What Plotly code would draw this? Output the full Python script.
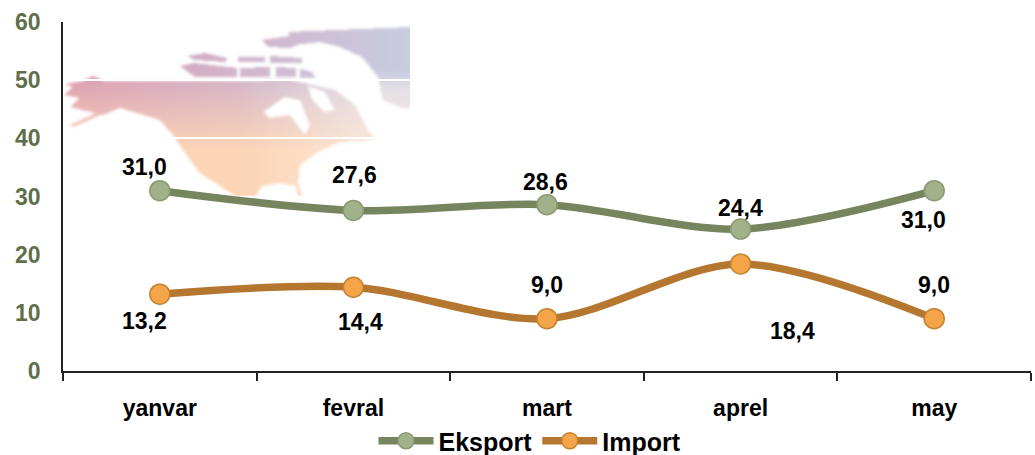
import base64
import struct
import zlib

import numpy as np
import plotly.graph_objects as go

months = ["yanvar", "fevral", "mart", "aprel", "may"]
eksport = [31.0, 27.6, 28.6, 24.4, 31.0]
import_ = [13.2, 14.4, 9.0, 18.4, 9.0]
eksport_labels = ["31,0", "27,6", "28,6", "24,4", "31,0"]
import_labels = ["13,2", "14,4", "9,0", "18,4", "9,0"]
y_ticks = [0, 10, 20, 30, 40, 50, 60]

# label offsets from the point, px (x right, y up)
eksport_shift = [(-15, 24), (1, 35), (-2, 23), (0, 21), (-11, -29)]
import_shift = [(-15, -27), (7, -35), (0, 34), (52, -67), (0, 34)]

GREEN = "#77855F"
ORANGE = "#B5762F"

# background map, rough outlines in page pixels of the original picture
map_shapes = [
    [(65, 84), (83, 81), (93, 76), (105, 81), (240, 81), (290, 80), (335, 90), (355, 105), (368, 130),
     (375, 140), (340, 142), (318, 152), (300, 165), (298, 182), (302, 197), (237, 197), (200, 173), (183, 150),
     (173, 135), (160, 120), (120, 108), (103, 115), (70, 107), (80, 98), (65, 95), (73, 87)],
    [(70, 125), (110, 107), (112, 110), (73, 127)],
    [(180, 66), (195, 63), (237, 68), (237, 77), (195, 77)],
    [(187, 56), (205, 53), (227, 58), (226, 62), (195, 60)],
    [(240, 68), (270, 67), (270, 77), (240, 77)],
    [(276, 67), (296, 68), (296, 77), (276, 77)],
    [(300, 69), (312, 72), (316, 78), (300, 78)],
    [(238, 57), (265, 57), (265, 62), (238, 62)],
    [(270, 56), (302, 58), (302, 63), (270, 63)],
    [(262, 40), (290, 36), (310, 40), (290, 48), (268, 47)],
    [(288, 32), (410, 27), (410, 108), (402, 108), (383, 100), (378, 77), (362, 57), (340, 47), (320, 42), (295, 45)],
]
map_holes = [
    [(263, 112), (285, 97), (300, 100), (310, 125), (305, 135), (290, 115), (270, 118)],
    [(255, 197), (262, 186), (280, 183), (296, 186), (298, 197)],
    [(308, 86), (325, 92), (335, 110), (325, 112), (312, 100)],
]


def fill_poly(poly, xx, yy):
    pts = np.array(poly, float)
    inside = np.zeros(xx.shape, bool)
    for i in range(len(pts)):
        a, b = pts[i], pts[i - 1]
        with np.errstate(divide="ignore", invalid="ignore"):
            inside ^= ((a[1] > yy) != (b[1] > yy)) & (xx < (b[0] - a[0]) * (yy - a[1]) / (b[1] - a[1]) + a[0])
    return inside


def make_map():
    x0, y0, w, h = 64, 25, 346, 175
    xx, yy = np.meshgrid(np.arange(w) + x0 + 0.5, np.arange(h) + y0 + 0.5)
    mask = np.zeros((h, w))
    for poly in map_shapes:
        mask[fill_poly(poly, xx, yy)] = 1
    for poly in map_holes:
        mask[fill_poly(poly, xx, yy)] = 0
    # soften the edges
    for _ in range(5):
        p = np.pad(mask, 1, mode="edge")
        mask = (p[1:-1, 1:-1] + p[:-2, 1:-1] + p[2:, 1:-1] + p[1:-1, :-2] + p[1:-1, 2:]) / 5
    # the map washes out towards the east
    mask *= 1 - 0.4 * np.clip((xx - 240) / 120, 0, 1) * np.clip((yy - 70) / 20, 0, 1)
    u = (xx - x0) / w
    v = np.clip((yy - 75) / 75, 0, 1)
    pink = np.array([220, 155, 178])
    blue = np.array([200, 205, 226])
    peach = np.array([252, 212, 182])
    rgb = np.zeros((h, w, 3))
    for c in range(3):
        top = pink[c] * (1 - u) + blue[c] * u
        rgb[:, :, c] = top * (1 - v) + peach[c] * v
    rgb = rgb * mask[:, :, None] + 255 * (1 - mask[:, :, None])
    raw = b"".join(b"\x00" + row.tobytes() for row in rgb.astype(np.uint8))

    def chunk(tag, data):
        return struct.pack(">I", len(data)) + tag + data + struct.pack(">I", zlib.crc32(tag + data))

    png = b"\x89PNG\r\n\x1a\n" + chunk(b"IHDR", struct.pack(">IIBBBBB", w, h, 8, 2, 0, 0, 0))
    png += chunk(b"IDAT", zlib.compress(raw)) + chunk(b"IEND", b"")
    return "data:image/png;base64," + base64.b64encode(png).decode(), x0, y0, w, h


W, H = 1035, 455
L, R, T, B = 63, 4, 22, 84
FONT = "Liberation Sans"

fig = go.Figure()
for name, vals, col, fill, edge in [
    ("Eksport", eksport, GREEN, "#A3B18A", "#8C9A72"),
    ("Import", import_, ORANGE, "#F4A54A", "#C4822F"),
]:
    fig.add_trace(go.Scatter(
        x=months, y=vals, name=name, mode="lines+markers",
        line=dict(color=col, width=7.5, shape="spline", smoothing=0.9),
        marker=dict(size=20, color=fill, line=dict(color=edge, width=1.5)),
    ))

for vals, labels, shifts in [(eksport, eksport_labels, eksport_shift), (import_, import_labels, import_shift)]:
    for m, v, t, s in zip(months, vals, labels, shifts):
        fig.add_annotation(x=m, y=v, text=t, showarrow=False, xshift=s[0], yshift=s[1],
                           font=dict(family=FONT, size=23, color="black", weight="bold"))

src, mx, my, mw, mh = make_map()
fig.add_layout_image(dict(source=src, xref="paper", yref="paper", layer="below", sizing="stretch",
                          x=(mx - L) / (W - L - R), y=1 - (my - T) / (H - T - B),
                          sizex=mw / (W - L - R), sizey=mh / (H - T - B), xanchor="left", yanchor="top"))

fig.update_layout(
    width=W, height=H, margin=dict(l=L, r=R, t=T, b=B, autoexpand=False),
    paper_bgcolor="white", plot_bgcolor="rgba(0,0,0,0)",
    font=dict(family=FONT),
    showlegend=True,
    legend=dict(orientation="h", xref="container", yref="container", x=530 / W, xanchor="center",
                y=1 - 441 / H, yanchor="middle", itemwidth=55, tracegroupgap=0,
                font=dict(family=FONT, size=25, color="black", weight="bold"),
                bgcolor="rgba(0,0,0,0)"),
    xaxis=dict(type="category", range=[-0.5, 4.5], tickson="boundaries", ticks="outside", ticklen=8,
               tickcolor="#222222", tickwidth=1.5, showline=True, linecolor="#222222", linewidth=1.5,
               showgrid=False, ticklabelstandoff=16,
               tickfont=dict(family=FONT, size=23, color="black", weight="bold")),
    yaxis=dict(range=[0, 60], tickvals=y_ticks, showline=True, linecolor="#222222", linewidth=1.5,
               showgrid=True, gridcolor="white", gridwidth=1.5, zeroline=False, ticks="", ticklabelstandoff=16,
               tickfont=dict(family=FONT, size=23, color="#5F6F4B", weight="bold")),
)

# the default 8px body margin would push the 1035px figure off the window
fig.write_html("out.html", config=dict(displayModeBar=False),
               post_script="document.body.style.margin='0';document.body.style.overflow='hidden';")
